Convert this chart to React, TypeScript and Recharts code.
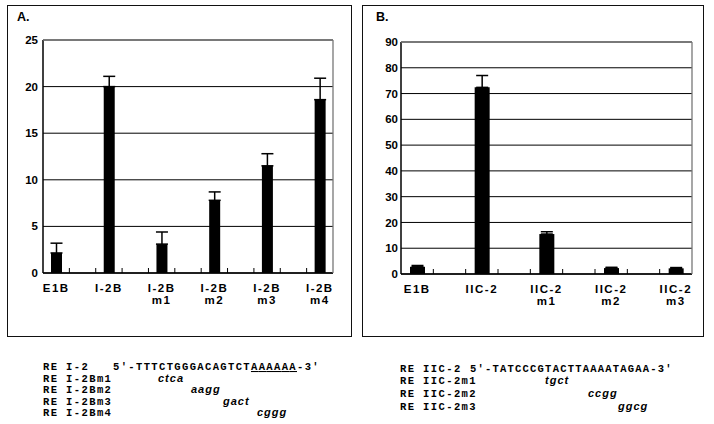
import React from 'react';
import { BarChart, Bar, XAxis, YAxis, CartesianGrid, ErrorBar } from 'recharts';

// panel A
const namesA = ['E1B', 'I-2B', 'I-2B', 'I-2B', 'I-2B', 'I-2B'];
const subA = ['', '', 'm1', 'm2', 'm3', 'm4'];
const valuesA = [2.15, 20, 3.1, 7.8, 11.5, 18.6];
const errorsA = [1.05, 1.1, 1.3, 0.9, 1.3, 2.3];
const ticksA = [0, 5, 10, 15, 20, 25];

// panel B
const namesB = ['E1B', 'IIC-2', 'IIC-2', 'IIC-2', 'IIC-2'];
const subB = ['', '', 'm1', 'm2', 'm3'];
const valuesB = [2.8, 72.4, 15.5, 2.3, 2.2];
const errorsB = [0.5, 4.6, 0.9, 0.3, 0.3];
const ticksB = [0, 10, 20, 30, 40, 50, 60, 70, 80, 90];

// sequences under the charts
const seqLabelsA = ['RE I-2', 'RE I-2Bm1', 'RE I-2Bm2', 'RE I-2Bm3', 'RE I-2Bm4'];
const seqA = ["5'-TTTCTGGGACAGTCT", 'AAAAAA', "-3'"];
const mutsA = ['ctca', 'aagg', 'gact', 'cggg'];
const seqLabelsB = ['RE IIC-2', 'RE IIC-2m1', 'RE IIC-2m2', 'RE IIC-2m3'];
const seqB = "5'-TATCCCGTACTTAAAATAGAA-3'";
const mutsB = ['tgct', 'ccgg', 'ggcg'];

type Row = { slot: string; name: string; sub: string; value?: number; err?: number[] };

// every bar is followed by an empty slot, like the original sheet
const buildRows = (names: string[], subs: string[], values: number[], errors: number[]): Row[] => {
  const rows: Row[] = [];
  names.forEach((n, i) => {
    rows.push({ slot: 's' + 2 * i, name: n, sub: subs[i], value: values[i], err: [0, errors[i]] });
    if (i < names.length - 1) rows.push({ slot: 's' + (2 * i + 1), name: '', sub: '' });
  });
  return rows;
};

const rowsA = buildRows(namesA, subA, valuesA, errorsA);
const rowsB = buildRows(namesB, subB, valuesB, errorsB);

const axisFont = { fontFamily: '"Liberation Sans", Arial, sans-serif', fontWeight: 700, fontSize: 11.5, fill: '#000' };
const GAP = 10;

const LabelTick = (props: any) => {
  const { x, y, payload, rows } = props;
  const row = rows.find((r: Row) => r.slot === payload.value);
  if (!row || !row.name) return null;
  return (
    <text x={x} y={y} textAnchor="middle" {...axisFont} letterSpacing={1.5}>
      <tspan x={x} dy="0.75em">{row.name}</tspan>
      {row.sub && <tspan x={x} dy={12}>{row.sub}</tspan>}
    </text>
  );
};

const Panel = ({ rows, ticks, max, barSize, margin, yWidth, yMargin, chartW }: any) => {
  const xH = 40;
  const left = margin.left + yWidth;
  const plotW = chartW - left - margin.right;
  const top = margin.top;
  const bottom = 330 - margin.bottom - xH;
  const step = plotW / rows.length;
  return (
    <div style={{ position: 'relative', width: chartW, height: 330 }}>
      <BarChart width={chartW} height={330} data={rows} margin={margin}>
        <CartesianGrid vertical={false} stroke="#000" strokeWidth={1} />
        <XAxis
          dataKey="slot"
          interval={0}
          height={xH}
          tickSize={0}
          tickMargin={GAP}
          tickLine={false}
          axisLine={{ stroke: '#000', strokeWidth: 1.5 }}
          tick={(p: any) => <LabelTick {...p} rows={rows} />}
        />
        <YAxis
          domain={[0, max]}
          ticks={ticks}
          width={yWidth}
          tickSize={0}
          tickMargin={yMargin}
          tickLine={false}
          axisLine={{ stroke: '#000', strokeWidth: 1.5 }}
          tick={axisFont}
          interval={0}
        />
        <Bar dataKey="value" fill="#000" barSize={barSize} isAnimationActive={false}>
          <ErrorBar dataKey="err" direction="y" width={6} stroke="#000" strokeWidth={1.5} />
        </Bar>
      </BarChart>
      {/* plot frame (grey top/right) and the small slot ticks on the category axis */}
      <svg width={chartW} height={330} style={{ position: 'absolute', left: 0, top: 0, pointerEvents: 'none' }}>
        <line x1={left} x2={left + plotW} y1={top} y2={top} stroke="#777" strokeWidth={1.3} />
        <line x1={left + plotW} x2={left + plotW} y1={top} y2={bottom} stroke="#777" strokeWidth={1.3} />
        {rows.slice(1).map((r: Row, i: number) => (
          <line key={r.slot} x1={left + (i + 1) * step} x2={left + (i + 1) * step} y1={bottom} y2={bottom - 5} stroke="#000" strokeWidth={1} />
        ))}
      </svg>
    </div>
  );
};

const mono = { fontFamily: '"Liberation Mono", "Courier New", monospace', fontWeight: 700, fontSize: 10.5, fill: '#000', letterSpacing: 1.4 };
const ital = { fontFamily: '"Liberation Sans", Arial, sans-serif', fontWeight: 700, fontStyle: 'italic', fontSize: 11, fill: '#000', letterSpacing: 1 };

const linesA = [370, 381.5, 393, 404.5, 416];
const linesB = [372, 384, 397, 410];
const mutXA = [158, 191, 223, 257];
const mutXB = [545, 588, 618];

export default function App() {
  return (
    <div style={{ position: 'absolute', left: 0, top: 0, width: 714, height: 424, background: '#fff', overflow: 'hidden' }}>
      <div style={{ position: 'absolute', left: 7, top: 5, width: 343, height: 330, border: '1.5px solid #111' }} />
      <div style={{ position: 'absolute', left: 362, top: 5, width: 340, height: 330, border: '1.5px solid #111' }} />
      <div style={{ position: 'absolute', left: 0, top: 0 }}>
        <Panel rows={rowsA} ticks={ticksA} max={25} barSize={11} chartW={360}
          margin={{ top: 40, right: 27, left: 8, bottom: 17 }} yWidth={35} yMargin={5} />
      </div>
      <div style={{ position: 'absolute', left: 355, top: 0 }}>
        <Panel rows={rowsB} ticks={ticksB} max={90} barSize={15} chartW={359}
          margin={{ top: 42, right: 22, left: 10, bottom: 16 }} yWidth={36} yMargin={3} />
      </div>
      <svg width={714} height={424} style={{ position: 'absolute', left: 0, top: 0, pointerEvents: 'none' }}>
        <text x={17} y={21} {...axisFont} fontSize={12.5}>A.</text>
        <text x={376} y={21} {...axisFont} fontSize={12.5}>B.</text>
        {seqLabelsA.map((l, i) => (
          <text key={l} x={43} y={linesA[i]} {...mono}>{l}</text>
        ))}
        <text x={113} y={linesA[0]} {...mono} textLength={207} lengthAdjust="spacing">
          {seqA[0]}
          <tspan style={{ textDecoration: 'underline' }}>{seqA[1]}</tspan>
          {seqA[2]}
        </text>
        {mutsA.map((m, i) => (
          <text key={m} x={mutXA[i]} y={linesA[i + 1]} {...ital}>{m}</text>
        ))}
        {seqLabelsB.map((l, i) => (
          <text key={l} x={400} y={linesB[i]} {...mono}>{l}</text>
        ))}
        <text x={470} y={linesB[0]} {...mono} textLength={203} lengthAdjust="spacing">{seqB}</text>
        {mutsB.map((m, i) => (
          <text key={m} x={mutXB[i]} y={linesB[i + 1]} {...ital}>{m}</text>
        ))}
      </svg>
    </div>
  );
}
